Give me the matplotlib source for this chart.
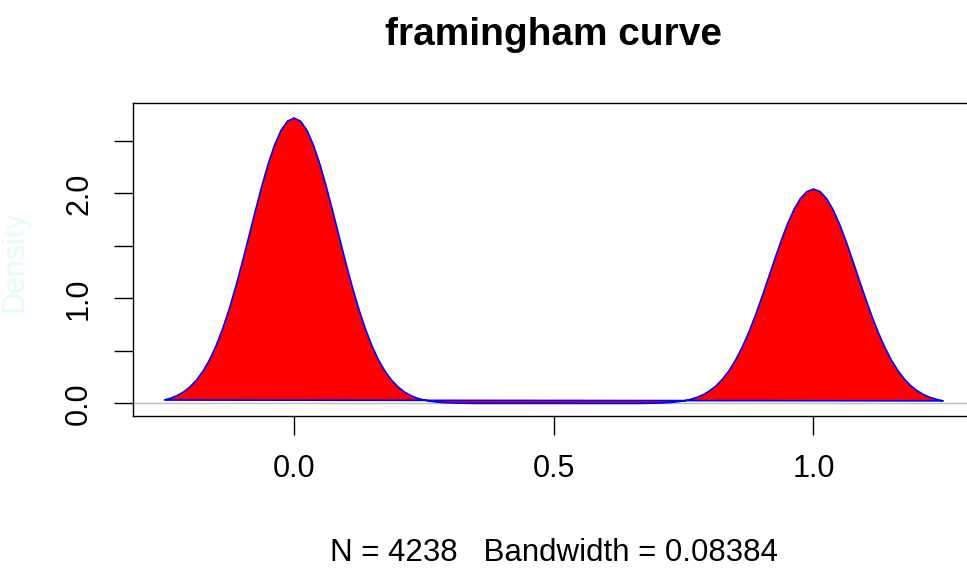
import numpy as np
import matplotlib.pyplot as plt

plt.rcParams['font.family'] = ['Liberation Sans', 'DejaVu Sans']

# density estimate, x grid step 0.0125 from -0.25 to 1.25
x_grid = np.arange(-0.25, 1.25 + 1e-9, 0.0125)

# left bump (x = -0.25 .. 0.25)
left_peak = [0.032, 0.049, 0.074, 0.109, 0.158, 0.223, 0.308, 0.415, 0.548, 0.708,
             0.894, 1.104, 1.334, 1.576, 1.821, 2.058, 2.274, 2.458, 2.599, 2.687,
             2.717,
             2.687, 2.599, 2.458, 2.274, 2.058, 1.821, 1.576, 1.334, 1.104, 0.894,
             0.708, 0.548, 0.415, 0.308, 0.223, 0.158, 0.109, 0.074, 0.049, 0.032]
# gap between the bumps (x = 0.2625 .. 0.7375)
gap = [0.020, 0.013, 0.008, 0.005, 0.003, 0.002, 0.001, 0.0, 0.0, 0.0,
       0.0, 0.0, 0.0, 0.0, 0.0, 0.0, 0.0, 0.0, 0.0, 0.0,
       0.0, 0.0, 0.0, 0.0, 0.0, 0.0, 0.0, 0.0, 0.0, 0.0,
       0.0, 0.0, 0.0, 0.001, 0.002, 0.003, 0.006, 0.009, 0.015]
# right bump (x = 0.75 .. 1.25)
right_peak = [0.024, 0.037, 0.056, 0.082, 0.119, 0.167, 0.231, 0.312, 0.412, 0.532,
              0.671, 0.829, 1.002, 1.183, 1.367, 1.545, 1.708, 1.846, 1.951, 2.017,
              2.040,
              2.017, 1.951, 1.846, 1.708, 1.545, 1.367, 1.183, 1.002, 0.829, 0.671,
              0.532, 0.412, 0.312, 0.231, 0.167, 0.119, 0.082, 0.056, 0.037, 0.024]
density = left_peak + gap + right_peak

x_ticks = [0.0, 0.5, 1.0]
x_labels = ['0.0', '0.5', '1.0']
y_ticks = [0.0, 0.5, 1.0, 1.5, 2.0, 2.5]
y_labels = ['0.0', '', '1.0', '', '2.0', '']

n_obs = 4238
bandwidth = 0.08384

fig = plt.figure(figsize=(9.67, 5.68), dpi=100)
ax = fig.add_axes([0.1375, 0.2676, 0.8703, 0.5511])

ax.axhline(0, color='#bebebe', lw=1.0, zorder=1)
ax.fill(x_grid, density, facecolor='red', edgecolor='blue', lw=1.2, zorder=2)

ax.set_xlim(-0.31, 1.31)
ax.set_ylim(-0.12, 2.86)

ax.set_xticks(x_ticks)
ax.set_xticklabels(x_labels)
ax.set_yticks(y_ticks)
ax.set_yticklabels(y_labels, rotation=90, va='center')
ax.tick_params(axis='both', labelsize=22, length=14, width=1.0, color='black')
ax.tick_params(axis='x', pad=13)
ax.tick_params(axis='y', pad=14)

for s in ax.spines.values():
    s.set_linewidth(1.0)

ax.set_title('framingham curve', fontsize=28, fontweight='bold', pad=42)
ax.set_xlabel(f'N = {n_obs}   Bandwidth = {bandwidth}', fontsize=22.5, labelpad=39)

# the y label is almost invisible in the original (very pale cyan)
fig.text(15 / 967, 1 - 261 / 568, 'Density', rotation=90, ha='center', va='center',
         fontsize=22, color='#e6fbfb')

fig.savefig('out.png', dpi=100)
